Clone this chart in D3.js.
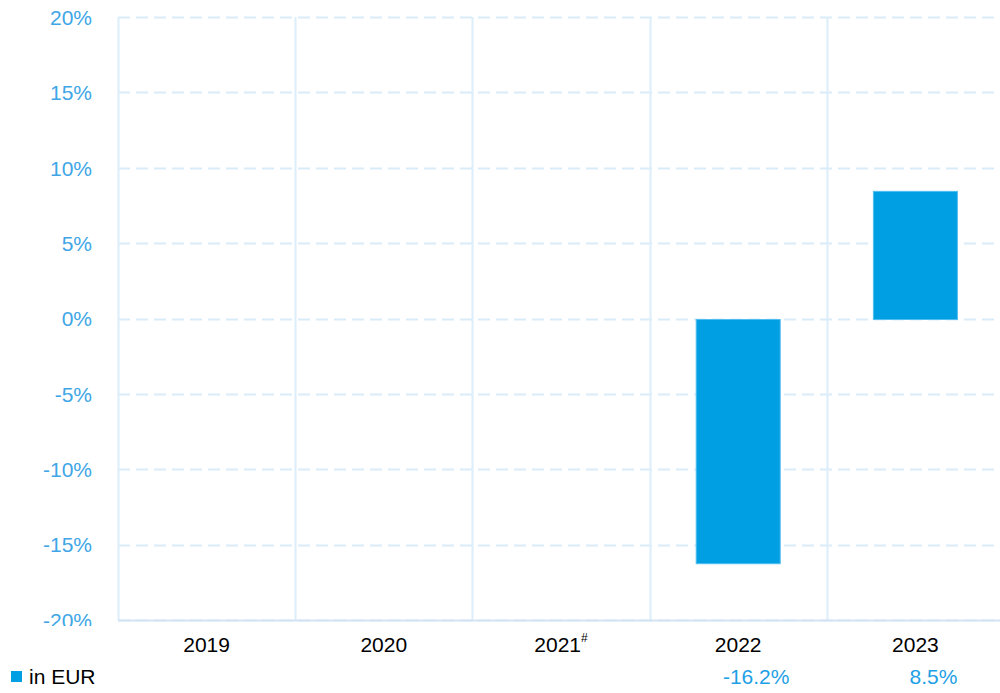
<!DOCTYPE html>
<html><head><meta charset="utf-8">
<script src="https://cdn.jsdelivr.net/npm/d3@7"></script>
<style>body{margin:0;background:#fff;}svg{display:block;font-family:"Liberation Sans",Arial,sans-serif;}</style>
</head><body>
<svg id="c" width="1000" height="693"></svg>
<script>
const categories = ["2019","2020","2021","2022","2023"];
const superscripts = ["","","#","",""];
const values = [null,null,null,-16.2,8.5];
const valueLabels = ["","","","-16.2%","8.5%"];
const yTicks = [20,15,10,5,0,-5,-10,-15,-20];
const legendLabel = "in EUR";

const svg = d3.select("#c");
const L = 118, R = 1004, T = 17, B = 620;
const x = d3.scaleBand().domain(categories).range([L, R]);
const y = d3.scaleLinear().domain([-20, 20]).range([B, T]);
const blue = "#009fe3";
const FS = 21;

svg.append("clipPath").attr("id","yclip").append("rect").attr("x",0).attr("y",0).attr("width",110).attr("height",626);

// horizontal dashed grid
svg.append("g").selectAll("line").data(yTicks).join("line")
  .attr("x1", L).attr("x2", 1000)
  .attr("y1", d => Math.round(y(d)) + 0.5).attr("y2", d => Math.round(y(d)) + 0.5)
  .attr("stroke", "#d9ecf8").attr("stroke-width", 2).attr("stroke-dasharray", "12,6");

// vertical lines
svg.append("g").selectAll("line").data(categories).join("line")
  .attr("x1", d => Math.round(x(d)) + 0.5).attr("x2", d => Math.round(x(d)) + 0.5)
  .attr("y1", T).attr("y2", B)
  .attr("stroke", "#dbeefa").attr("stroke-width", 2);

// bottom axis line
svg.append("line").attr("x1", L).attr("x2", 1000).attr("y1", B+0.5).attr("y2", B+0.5)
  .attr("stroke", "#d3e3f3").attr("stroke-width", 2);

// y labels
const yAxis = d3.axisLeft(y).tickValues(yTicks).tickFormat(d => d + "%").tickSize(0).tickPadding(0);
const ywrap = svg.append("g").attr("clip-path","url(#yclip)");
const yg = ywrap.append("g").attr("transform", "translate(92,0)").call(yAxis);
yg.select(".domain").remove();
yg.selectAll("text").attr("fill", "#3ea6e6").attr("font-size", FS)
  .attr("font-family", '"Liberation Sans",Arial,sans-serif').attr("dy", "0.35em");

// bars
const bw = 84;
svg.append("g").selectAll("rect").data(categories.map((c,i)=>({c,v:values[i]})).filter(d=>d.v!==null)).join("rect")
  .attr("x", d => x(d.c) + x.bandwidth()/2 - bw/2)
  .attr("width", bw)
  .attr("y", d => Math.min(y(0), y(d.v)) + 1)
  .attr("height", d => Math.abs(y(d.v) - y(0)))
  .attr("fill", blue).attr("stroke", "#4fbdf0").attr("stroke-width", 1);

// x labels
const xl = svg.append("g").selectAll("text").data(categories).join("text")
  .attr("x", d => x(d) + x.bandwidth()/2).attr("y", 652)
  .attr("text-anchor", "middle").attr("font-size", FS).attr("fill", "#000");
xl.append("tspan").text(d => d);
xl.append("tspan").attr("font-size", 12).attr("dy", -10).text((d,i) => superscripts[i]);

// value labels
svg.append("g").selectAll("text").data(categories).join("text")
  .attr("x", d => x(d) + x.bandwidth()/2 + 18).attr("y", 684)
  .attr("text-anchor", "middle").attr("font-size", FS).attr("fill", "#1ea0e6")
  .text((d,i) => valueLabels[i]);

// legend
svg.append("rect").attr("x", 11).attr("y", 671).attr("width", 11).attr("height", 11).attr("fill", blue);
svg.append("text").attr("x", 29).attr("y", 684).attr("font-size", FS).attr("fill", "#000").text(legendLabel);
</script>
</body></html>
